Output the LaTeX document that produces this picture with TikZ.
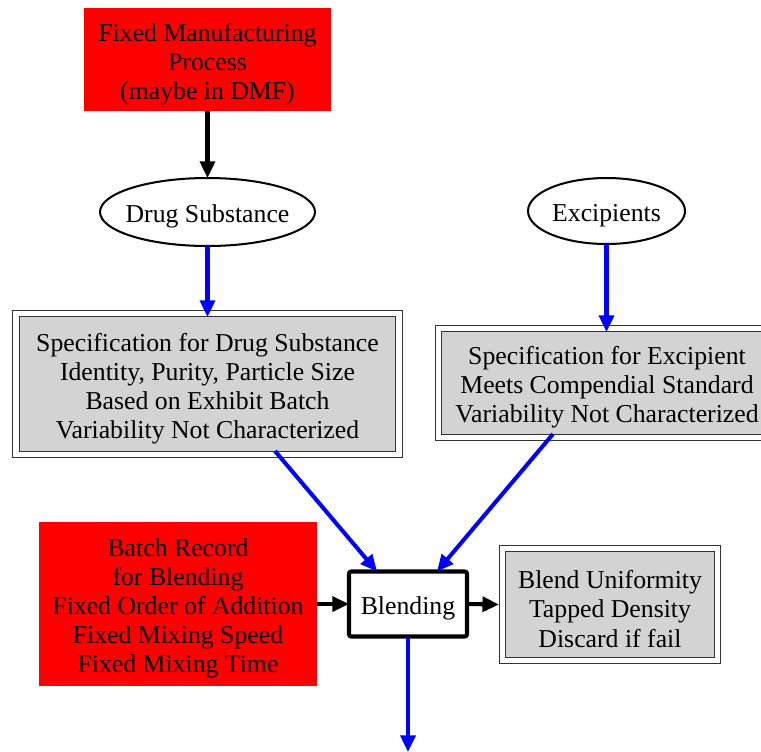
\documentclass[tikz,border=0pt]{standalone}
\usepackage{fontspec}
\setmainfont{Liberation Serif}
\usetikzlibrary{arrows.meta,shapes.geometric}
\newdimen\px \px=0.5435pt
\definecolor{boxgray}{HTML}{D3D3D3}
\begin{document}
\begin{tikzpicture}[x=0.5435pt,y=-0.5435pt,
  every node/.style={inner sep=0pt,outer sep=0pt,align=center,
    font=\fontsize{14pt}{15.8pt}\selectfont},
  txt/.style={label={[yshift=-4.5\px]center:{#1}}},
  redbox/.style={fill=red,rectangle},
  oval/.style={ellipse,draw,line width=1.1pt,fill=white},
  specbox/.style={rectangle,fill=boxgray,draw=black!80,line width=0.55pt,
    double=white,double distance=3.2pt},
  procbox/.style={rectangle,draw,line width=2.2pt,rounded corners=1.2pt,fill=white},
  flow/.style={line width=2.2pt,-{Triangle[length=9pt,width=8pt]}},
  bflow/.style={flow,blue},
  kflow/.style={flow,black}]
\useasboundingbox (0,0) rectangle (761,751);
\clip (0,0) rectangle (761,751);
\fill[white] (0,0) rectangle (761,751);

\node[redbox,minimum width=247\px,minimum height=103\px,
  txt={Fixed Manufacturing\\Process\\(maybe in DMF)}] (fmp) at (207.5,59.5) {};
\node[oval,minimum width=215\px,minimum height=68\px,
  txt={Drug Substance}] (ds) at (207.5,212) {};
\node[oval,minimum width=157\px,minimum height=66\px,
  txt={Excipients}] (exc) at (606.5,211) {};

\node[specbox,minimum width=383\px,minimum height=141\px,
  txt={Specification for Drug Substance\\Identity, Purity, Particle Size\\Based on Exhibit Batch\\Variability Not Characterized}]
  (specds) at (207.5,384) {};
\node[specbox,minimum width=380\px,minimum height=109\px,
  label={[xshift=-21.5\px,yshift=-4.5\px]center:{Specification for Excipient\\Meets Compendial Standard\\Variability Not Characterized}}]
  (specex) at (628.5,383) {};

\node[redbox,minimum width=278\px,minimum height=164\px,
  txt={Batch Record\\for Blending\\Fixed Order of Addition\\Fixed Mixing Speed\\Fixed Mixing Time}]
  (batch) at (178,604) {};
\node[procbox,minimum width=118\px,minimum height=65\px,
  txt={Blending}] (blend) at (408,604) {};
\node[specbox,minimum width=215\px,minimum height=112\px,
  txt={Blend Uniformity\\Tapped Density\\Discard if fail}] (bu) at (610,604.5) {};

\coordinate (out) at (408,752);

\draw[kflow] (fmp.south) -- (ds.north);
\draw[bflow] (ds.south) -- ([yshift=-3.5\px]specds.north);
\draw[bflow] (exc.south) -- ([xshift=-22\px,yshift=-3.5\px]specex.north);
\draw[bflow] ([xshift=67.5\px,yshift=3.5\px]specds.south) -- ([xshift=-31\px]blend.north);
\draw[bflow] ([xshift=-75.5\px,yshift=3.5\px]specex.south) -- ([xshift=29\px]blend.north);
\draw[kflow] (batch.east) -- (blend.west);
\draw[kflow] (blend.east) -- ([xshift=-3.5\px]bu.west);
\draw[bflow] (blend.south) -- (out);
\end{tikzpicture}
\end{document}
